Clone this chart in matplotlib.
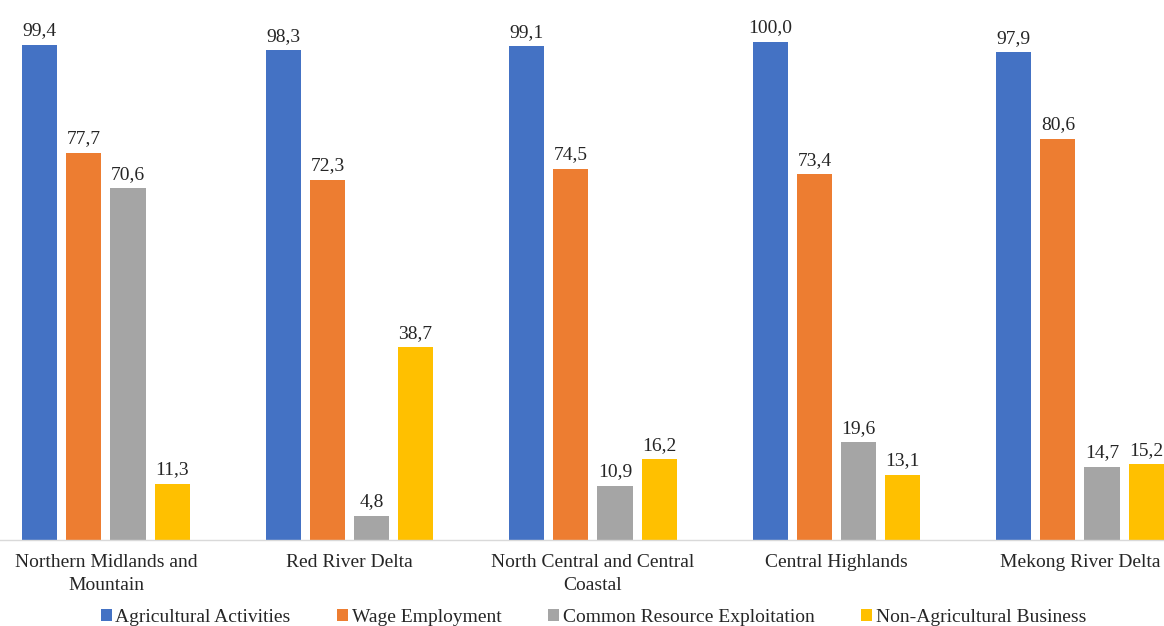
import matplotlib
matplotlib.use("Agg")
import matplotlib.pyplot as plt
import numpy as np

plt.rcParams["font.family"] = ["Liberation Serif", "DejaVu Serif"]

regions = ["Northern Midlands and\nMountain", "Red River Delta",
           "North Central and Central\nCoastal", "Central Highlands",
           "Mekong River Delta"]
series = ["Agricultural Activities", "Wage Employment",
          "Common Resource Exploitation", "Non-Agricultural Business"]
agri = [99.4, 98.3, 99.1, 100.0, 97.9]
wage = [77.7, 72.3, 74.5, 73.4, 80.6]
common = [70.6, 4.8, 10.9, 19.6, 14.7]
nonagri = [11.3, 38.7, 16.2, 13.1, 15.2]
colors = ["#4472C4", "#ED7D31", "#A5A5A5", "#FFC000"]

fig = plt.figure(figsize=(11.64, 6.26), dpi=100)
ax = fig.add_axes([0, 86 / 626, 1, 498 / 626])

x = np.arange(len(regions))
step, width = 0.181, 0.144
for k, (vals, name, c) in enumerate(zip([agri, wage, common, nonagri], series, colors)):
    pos = x + (k - 1.5) * step
    bars = ax.bar(pos, vals, width, color=c, label=name)
    for b, v in zip(bars, vals):
        ax.annotate(f"{v:.1f}".replace(".", ","), (b.get_x() + b.get_width() / 2, v),
                    xytext=(0, 4), textcoords="offset points", ha="center",
                    va="bottom", fontsize=14, color="#262626", annotation_clip=False)

ax.set_xlim(-0.435, 4.345)
ax.set_ylim(0, 100)
ax.set_xticks(x, regions, fontsize=14, color="#262626", linespacing=1.45)
ax.tick_params(axis="x", length=0, pad=10)
ax.set_yticks([])
for s in ["top", "left", "right"]:
    ax.spines[s].set_visible(False)
ax.spines["bottom"].set_color("#D9D9D9")
ax.spines["bottom"].set_linewidth(1)

leg = ax.legend(loc="center", bbox_to_anchor=(0.51, -0.155), ncol=4, frameon=False,
                fontsize=14, handlelength=0.55, handleheight=0.55, handletextpad=0.2,
                columnspacing=2.4)
for t in leg.get_texts():
    t.set_color("#262626")

fig.savefig("out.png", dpi=100)
